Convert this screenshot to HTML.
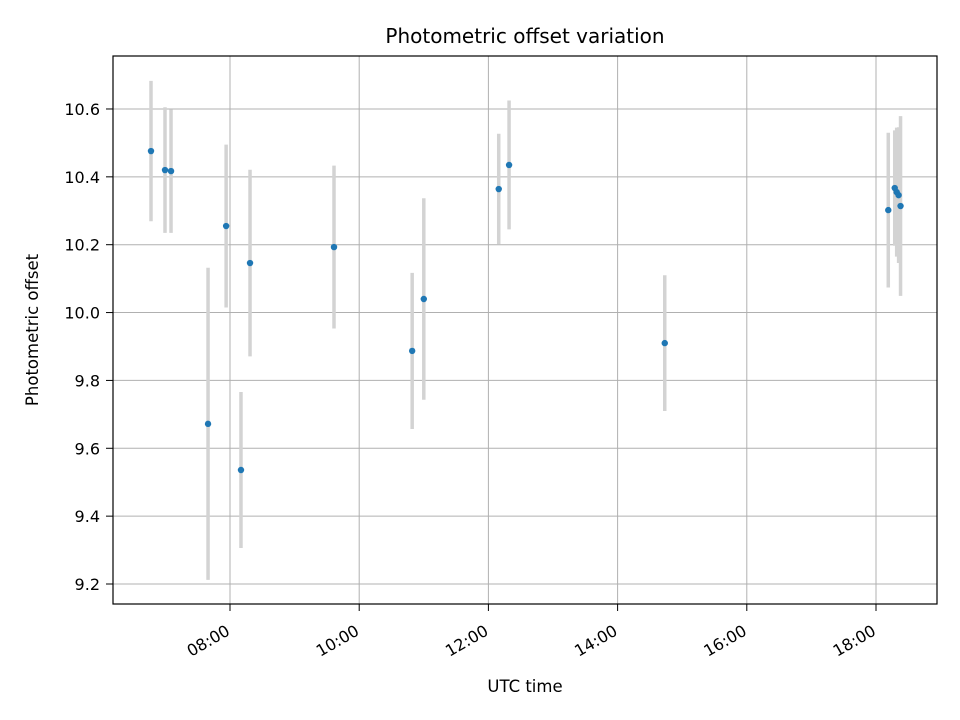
<!DOCTYPE html>
<html><head><meta charset="utf-8"><style>
body{margin:0;background:#fff;}
svg{display:block;font-family:"DejaVu Sans","Liberation Sans",sans-serif;}
</style></head><body>
<svg id="chart" width="960" height="720">
<rect width="960" height="720" fill="#fff"/>
<g id="grid"></g>
<g id="bars"></g>
<g id="pts"></g>
<rect x="113" y="56" width="824" height="548" fill="none" stroke="#000" stroke-width="1.2"/>
<g id="axes"></g>
<text x="525" y="43" text-anchor="middle" font-size="20">Photometric offset variation</text>
<text x="525" y="692" text-anchor="middle" font-size="16.5">UTC time</text>
<text transform="translate(38,330) rotate(-90)" text-anchor="middle" font-size="16.5">Photometric offset</text>
</svg>
<script>
const times=[6.777,6.994,7.087,7.66,7.94,8.17,8.31,9.61,10.82,11.0,12.16,12.32,14.73,18.19,18.29,18.32,18.35,18.38];
const offsets=[10.476,10.420,10.417,9.672,10.255,9.536,10.146,10.193,9.887,10.040,10.364,10.435,9.910,10.302,10.367,10.355,10.346,10.314];
const errors=[0.207,0.185,0.182,0.46,0.24,0.23,0.275,0.24,0.23,0.297,0.163,0.19,0.2,0.228,0.17,0.19,0.2,0.265];
const yTicks=[9.2,9.4,9.6,9.8,10.0,10.2,10.4,10.6];
const xTicks=[8,10,12,14,16,18];
const xTickLabels=["08:00","10:00","12:00","14:00","16:00","18:00"];
const NS="http://www.w3.org/2000/svg";
const X=h=>230+(h-8)*64.6;
const Y=v=>584-(v-9.2)*339.3;
function mk(tag,attrs,parent){const e=document.createElementNS(NS,tag);for(const k in attrs)e.setAttribute(k,attrs[k]);document.getElementById(parent).appendChild(e);return e;}
yTicks.forEach((v,i)=>{
 const y=Y(v);
 const g=mk('line',{x1:113,x2:937,y1:y,y2:y,stroke:'#b0b0b0','stroke-width':1},'grid');
 
 
 const t=mk('line',{x1:106,x2:113,y1:y,y2:y,stroke:'#000'},'axes');
 
 
 const l=mk('text',{x:100,y:y+6,'text-anchor':'end','font-size':16},'axes');
 l.textContent=v.toFixed(1);
 
 
});
xTicks.forEach((h,i)=>{
 const x=X(h);
 const g=mk('line',{x1:x,x2:x,y1:56,y2:604,stroke:'#b0b0b0','stroke-width':1},'grid');
 
 
 const t=mk('line',{x1:x,x2:x,y1:604,y2:611,stroke:'#000'},'axes');
 
 
 const l=mk('text',{transform:`translate(${x+1},${634}) rotate(-30)`,'text-anchor':'end','font-size':16},'axes');
 l.textContent=xTickLabels[i];
 
 
});
times.forEach((h,i)=>{
 const x=X(h);
 const b=mk('line',{x1:x,x2:x,y1:Y(offsets[i]+errors[i]),y2:Y(offsets[i]-errors[i]),stroke:'#d3d3d3','stroke-width':3.5},'bars');
 
 
 const c=mk('circle',{cx:x,cy:Y(offsets[i]),r:3.2,fill:'#1f77b4'},'pts');
 
 
});
</script>
</body></html>
